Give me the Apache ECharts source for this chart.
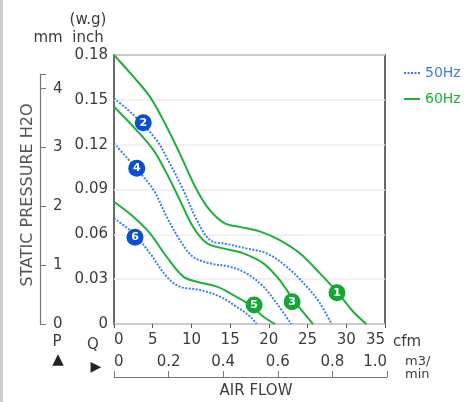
<!DOCTYPE html>
<html><head><meta charset="utf-8">
<script src="https://cdn.jsdelivr.net/npm/echarts@6/dist/echarts.min.js"></script>
<style>html,body{margin:0;padding:0;background:#fff}#c{width:474px;height:402px}</style>
</head><body><div id="c"></div>
<script>
// Air flow in cfm, static pressure in inch H2O
const curve1_60Hz = [[0,0.18],[2.5,0.1655],[4.65,0.152],[6.6,0.134],[8.5,0.114],[10.7,0.0897],[12.4,0.076],[14.3,0.0674],[16.3,0.065],[18.9,0.0618],[21.4,0.0562],[24,0.0473],[26.6,0.0339],[28.8,0.0216],[30.9,0.0082],[32.6,0]];
const curve2_50Hz = [[0,0.151],[2.5,0.14],[5.5,0.123],[7.2,0.1075],[8.95,0.0897],[10.7,0.0696],[12.4,0.0562],[14.6,0.0535],[17.1,0.0506],[19.7,0.0473],[22.3,0.0383],[24.9,0.025],[26.6,0.0139],[28.1,0]];
const curve3_60Hz = [[0,0.1454],[2.5,0.132],[5.1,0.1164],[6.8,0.1008],[8.5,0.083],[10.2,0.0651],[12,0.054],[14.1,0.0506],[16.7,0.0473],[19.3,0.0406],[21.4,0.0294],[23.2,0.016],[25.7,0]];
const curve4_50Hz = [[0,0.1209],[2.7,0.105],[5.1,0.0897],[6.8,0.0718],[8.5,0.0562],[10.2,0.045],[12.4,0.0406],[15,0.0383],[17.1,0.0339],[19.3,0.025],[21,0.0139],[22.9,0]];
const curve5_60Hz = [[0,0.0818],[2.5,0.0718],[4.65,0.0607],[6.8,0.045],[8.95,0.0317],[10.7,0.0283],[13.3,0.025],[15.4,0.0194],[17.6,0.0127],[19.3,0.0049],[20.8,0]];
const curve6_50Hz = [[0,0.0707],[2.5,0.0607],[4.65,0.0473],[6.8,0.0317],[8.5,0.025],[11.1,0.0228],[13.7,0.0183],[15.8,0.0116],[17.6,0.0049],[18.4,0]];
const markers60Hz = [[28.8,0.0209,'1'],[23.0,0.0149,'3'],[18.1,0.0127,'5']];
const markers50Hz = [[3.78,0.1347,'2'],[2.94,0.1042,'4'],[2.71,0.058,'6']];
const cfmTicks = [0,5,10,15,20,25,30,35];
const inchTicks = [0,0.03,0.06,0.09,0.12,0.15,0.18];
const mmTicks = [0,1,2,3,4];
const m3minTicks = [0,0.2,0.4,0.6,0.8,1.0];
const INCH_PER_MM = 0.03937;

const FONT = 'DejaVu Sans';
const GREEN = '#1fae3f', BLUE = '#3b7fe3', MBLUE = '#0b4fd1', MGREEN = '#16a636', TXT = '#3c3c3c';

const chart = echarts.init(document.getElementById('c'));
const plotTop = 55, plotBottom = 324, mmTop = 74;
const mmMax = (plotBottom - mmTop) / (plotBottom - plotTop) * inchTicks[inchTicks.length-1] / INCH_PER_MM;

function lineSeries(name, data, color, dotted) {
  return {name, type:'line', data, smooth:0.35, symbol:'none', xAxisIndex:0, yAxisIndex:0,
    lineStyle:{color, width:2, type: dotted ? [2,1.5] : 'solid'}, itemStyle:{color}, z:3};
}
function markerSeries(data, color) {
  return {type:'scatter', data, symbolSize:17, xAxisIndex:0, yAxisIndex:0, z:5,
    itemStyle:{color, opacity:1},
    label:{show:true, position:'inside', formatter:p=>p.value[2], color:'#fff', fontWeight:'bold', fontSize:11, fontFamily:FONT}};
}

chart.setOption({
  animation:false,
  textStyle:{fontFamily:FONT},
  grid:[
    {left:114, top:plotTop, width:271, height:plotBottom-plotTop, show:true, borderColor:'#3a3a3a', borderWidth:1.5, backgroundColor:'#fff'},
    {left:40, top:mmTop, width:1, height:plotBottom-mmTop},
    {left:114, top:370, width:273, height:7}
  ],
  legend:{orient:'vertical', left:398, top:61, itemWidth:16, itemHeight:12, itemGap:12,
    itemStyle:{opacity:0, borderWidth:0},
    textStyle:{fontSize:14, fontFamily:FONT},
    data:[{name:'50Hz', textStyle:{color:BLUE}},{name:'60Hz', textStyle:{color:GREEN}}]},
  xAxis:[
    {gridIndex:0, type:'value', min:cfmTicks[0], max:cfmTicks[cfmTicks.length-1], interval:5,
      axisLine:{show:false}, axisTick:{show:true, length:4, lineStyle:{color:'#555'}},
      axisLabel:{fontSize:15, color:TXT, margin:9, fontFamily:FONT, alignMinLabel:'left', alignMaxLabel:'right'}, splitLine:{show:false}},
    {gridIndex:1, type:'value', show:false},
    {gridIndex:2, type:'value', min:m3minTicks[0], max:m3minTicks[m3minTicks.length-1], interval:0.2, position:'bottom',
      axisLine:{show:true, lineStyle:{color:'#777', width:1.2}},
      axisTick:{show:true, inside:true, length:6, lineStyle:{color:'#777'}},
      axisLabel:{inside:true, margin:7, fontSize:15, color:TXT, fontFamily:FONT, alignMinLabel:'left', alignMaxLabel:'right',
        formatter:v=> v===0 ? '0' : v.toFixed(1)}, splitLine:{show:false}}
  ],
  yAxis:[
    {gridIndex:0, type:'value', min:inchTicks[0], max:inchTicks[inchTicks.length-1], interval:0.03,
      axisLine:{show:false}, axisTick:{show:false},
      axisLabel:{fontSize:15, color:TXT, margin:6, fontFamily:FONT, formatter:v=> v===0 ? '0' : v.toFixed(2)},
      splitLine:{show:true, lineStyle:{color:'#ececec', width:1.5}}},
    {gridIndex:1, type:'value', min:mmTicks[0], max:mmMax, interval:1, position:'left',
      axisLine:{show:true, lineStyle:{color:'#777', width:1.2}},
      axisTick:{show:true, inside:true, length:6, lineStyle:{color:'#777'}},
      axisLabel:{inside:true, margin:13, fontSize:15, color:TXT, fontFamily:FONT,
        formatter:v=> mmTicks.includes(Math.round(v*1000)/1000) ? String(v) : ''},
      splitLine:{show:false}},
    {gridIndex:2, type:'value', show:false}
  ],
  series:[
    lineSeries('60Hz', curve1_60Hz, GREEN, false),
    lineSeries('50Hz', curve2_50Hz, BLUE, true),
    lineSeries('60Hz', curve3_60Hz, GREEN, false),
    lineSeries('50Hz', curve4_50Hz, BLUE, true),
    lineSeries('60Hz', curve5_60Hz, GREEN, false),
    lineSeries('50Hz', curve6_50Hz, BLUE, true),
    markerSeries(markers60Hz, MGREEN),
    markerSeries(markers50Hz, MBLUE)
  ],
  graphic:[
    {type:'rect', left:0, top:0, shape:{width:3, height:402}, style:{fill:'#cfcfcf'}, silent:true},
    {type:'text', x:88, y:20, style:{text:'(w.g)', fill:TXT, font:'15px '+FONT, textAlign:'center', textVerticalAlign:'middle'}},
    {type:'text', x:48, y:38, style:{text:'mm', fill:TXT, font:'15px '+FONT, textAlign:'center', textVerticalAlign:'middle'}},
    {type:'text', x:88, y:38, style:{text:'inch', fill:TXT, font:'15px '+FONT, textAlign:'center', textVerticalAlign:'middle'}},
    {type:'text', x:28, y:195, rotation:Math.PI/2, style:{text:'STATIC PRESSURE H2O', fill:'#555', font:'16px '+FONT, textAlign:'center', textVerticalAlign:'middle'}},
    {type:'text', x:57, y:342, style:{text:'P', fill:TXT, font:'15px '+FONT, textAlign:'center', textVerticalAlign:'middle'}},
    {type:'text', x:58, y:360, style:{text:'▲', fill:'#222', font:'15px '+FONT, textAlign:'center', textVerticalAlign:'middle'}},
    {type:'text', x:93, y:345, style:{text:'Q', fill:TXT, font:'15px '+FONT, textAlign:'center', textVerticalAlign:'middle'}},
    {type:'text', x:96, y:367, style:{text:'▶', fill:'#222', font:'14px '+FONT, textAlign:'center', textVerticalAlign:'middle'}},
    {type:'text', x:393, y:342, style:{text:'cfm', fill:TXT, font:'15px '+FONT, textAlign:'left', textVerticalAlign:'middle'}},
    {type:'text', x:405, y:362, style:{text:'m3/', fill:TXT, font:'13px '+FONT, textAlign:'left', textVerticalAlign:'middle'}},
    {type:'text', x:405, y:375, style:{text:'min', fill:TXT, font:'13px '+FONT, textAlign:'left', textVerticalAlign:'middle'}},
    {type:'text', x:256, y:391, style:{text:'AIR FLOW', fill:TXT, font:'15px '+FONT, textAlign:'center', textVerticalAlign:'middle'}}
  ]
});
</script></body></html>
